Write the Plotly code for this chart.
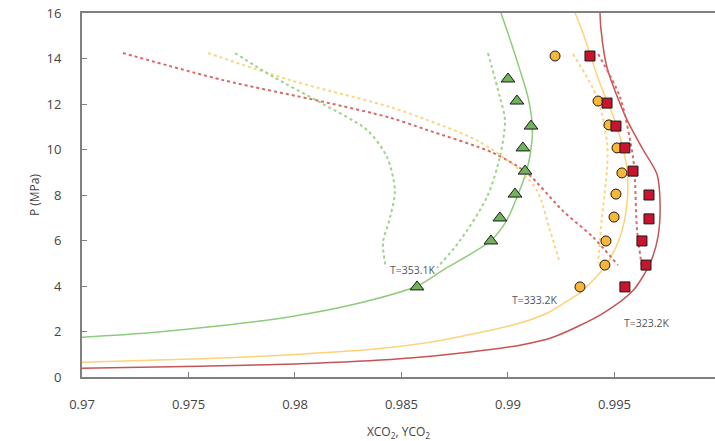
import plotly.graph_objects as go

# ---------------- data ----------------
tri_x = [0.9900, 0.99042, 0.99108, 0.99070, 0.9908, 0.99033, 0.98962, 0.9892, 0.98573]
tri_p = [13.1, 12.13, 11.03, 10.07, 9.05, 8.04, 6.99, 5.98, 3.96]

cir_x = [0.99221, 0.99423, 0.99474, 0.99512, 0.99535, 0.99507, 0.99498, 0.9946, 0.99455, 0.99338]
cir_p = [14.11, 12.13, 11.08, 10.07, 8.97, 8.04, 7.03, 5.98, 4.92, 3.96]

sq_x = [0.99385, 0.99465, 0.99507, 0.99549, 0.99587, 0.99662, 0.99662, 0.99629, 0.99648, 0.99549]
sq_p = [14.11, 12.04, 11.03, 10.07, 9.05, 8.0, 6.95, 5.98, 4.92, 3.96]

g_x = [0.97, 0.97319, 0.97648, 0.97977, 0.98258, 0.98573, 0.98695, 0.9892, 0.98995, 0.99042,
       0.99089, 0.99113, 0.99113, 0.99094, 0.99056, 0.98995, 0.98967]
g_p = [1.75, 1.95, 2.25, 2.65, 3.15, 4.0, 4.7, 6.0, 6.9, 7.9, 9.1, 10.4, 11.2, 12.3, 13.5, 15.25, 16.0]

y_x = [0.97, 0.97554, 0.98023, 0.98399, 0.98695, 0.99056, 0.99183, 0.99305, 0.99338, 0.99455,
       0.99526, 0.99559, 0.99559, 0.99512, 0.99432, 0.99347, 0.99315]
y_p = [0.65, 0.8, 1.0, 1.25, 1.63, 2.37, 2.8, 3.5, 3.7, 4.85, 6.15, 7.65, 9.1, 11.0, 12.9, 15.25, 16.0]

r_x = [0.97, 0.97554, 0.98023, 0.98493, 0.98822, 0.99056, 0.99211, 0.99446, 0.99587, 0.99667,
       0.99704, 0.99714, 0.99700, 0.99634, 0.99559, 0.99465, 0.99437, 0.99432]
r_p = [0.38, 0.47, 0.58, 0.8, 1.1, 1.4, 1.75, 2.8, 3.8, 5.0, 6.15, 7.65, 8.9, 10.0, 11.3, 13.6, 15.25, 16.0]

rd1_x = [0.97192, 0.97662, 0.98131, 0.98446, 0.9862, 0.9893, 0.99089, 0.99258, 0.99399, 0.99516]
rd1_p = [14.24, 13.05, 12.1, 11.4, 10.86, 9.85, 8.97, 7.3, 6.15, 4.92]
rd2_x = [0.99423, 0.99526, 0.99587, 0.99596, 0.99606, 0.99629]
rd2_p = [14.2, 12.3, 9.67, 8.66, 6.46, 4.84]

yd1_x = [0.97592, 0.97977, 0.98446, 0.9862, 0.98854, 0.99042, 0.99136, 0.99197, 0.99244]
yd1_p = [14.24, 13.05, 11.87, 11.3, 10.4, 9.2, 8.2, 6.46, 5.0]
yd2_x = [0.99305, 0.99418, 0.99465, 0.99465, 0.99441, 0.99423]
yd2_p = [14.2, 12.3, 10.3, 9.1, 7.0, 5.0]

gd1_x = [0.97718, 0.97897, 0.98131, 0.98338, 0.98432, 0.98469, 0.98446, 0.98413, 0.98427]
gd1_p = [14.24, 13.2, 12.0, 10.86, 9.67, 8.2, 7.0, 5.9, 4.8]
gd2_x = [0.98906, 0.98962, 0.98986, 0.98962, 0.98901, 0.98775, 0.98667]
gd2_p = [14.24, 12.3, 11.3, 9.67, 7.9, 6.0, 4.8]

labels = ["T=353.1K", "T=333.2K", "T=323.2K"]
label_x = [0.98554, 0.99127, 0.99653]
label_p = [4.7, 3.4, 2.36]

x_ticks = [0.97, 0.975, 0.98, 0.985, 0.99, 0.995]
x_ticktext = ["0.97", "0.975", "0.98", "0.985", "0.99", "0.995"]
y_ticks = [0, 2, 4, 6, 8, 10, 12, 14, 16]

# ---------------- styles ----------------
GREEN = "#8fcb7b"
YELLOW = "#fdd279"
RED = "#c45555"
GREEN_D = "#9fd38a"
YELLOW_D = "#fcd583"
RED_D = "#d96a6a"

fig = go.Figure()

def line(x, y, color, dash=None, width=1.5):
    fig.add_trace(go.Scatter(x=x, y=y, mode="lines",
                             line=dict(color=color, width=width, dash=dash, shape="spline", smoothing=0.8),
                             hoverinfo="skip", showlegend=False))

line(g_x, g_p, GREEN)
line(y_x, y_p, YELLOW)
line(r_x, r_p, RED)
line(rd1_x, rd1_p, RED_D, "dot", 2)
line(rd2_x, rd2_p, RED_D, "dot", 2)
line(yd1_x, yd1_p, YELLOW_D, "dot", 2)
line(yd2_x, yd2_p, YELLOW_D, "dot", 2)
line(gd1_x, gd1_p, GREEN_D, "dot", 2)
line(gd2_x, gd2_p, GREEN_D, "dot", 2)

fig.add_trace(go.Scatter(x=tri_x, y=tri_p, mode="markers", showlegend=False,
                         marker=dict(symbol="triangle-up", size=12, color="#6fb45b",
                                     line=dict(color="#1a1a1a", width=1))))
fig.add_trace(go.Scatter(x=cir_x, y=cir_p, mode="markers", showlegend=False,
                         marker=dict(symbol="circle", size=10, color="#f8b739",
                                     line=dict(color="#1a1a1a", width=1))))
fig.add_trace(go.Scatter(x=sq_x, y=sq_p, mode="markers", showlegend=False,
                         marker=dict(symbol="square", size=10, color="#c8142e",
                                     line=dict(color="#1a1a1a", width=1))))

for t, x, p in zip(labels, label_x, label_p):
    fig.add_annotation(x=x, y=p, text=t, showarrow=False,
                       font=dict(size=10.5, color="#555555", family="Open Sans"))

axis_common = dict(showgrid=False, zeroline=False, showline=True, linecolor="#808080",
                   linewidth=2, ticks="inside", ticklen=5, tickcolor="#808080", tickwidth=1,
                   ticklabeloverflow="allow",
                   tickfont=dict(size=13, color="#444444", family="Open Sans"))

fig.update_xaxes(range=[0.97, 0.99972], tickvals=x_ticks, ticktext=x_ticktext,
                 mirror=True, ticklabelstandoff=14,
                 title=dict(text="XCO<sub>2</sub>, YCO<sub>2</sub>", standoff=20,
                            font=dict(size=12, color="#444444", family="Open Sans")),
                 **axis_common)
fig.update_yaxes(range=[0, 16], tickvals=y_ticks, ticklabelstandoff=16,
                 title=dict(text="P (MPa)", standoff=4,
                            font=dict(size=12, color="#444444", family="Open Sans")),
                 **axis_common)

fig.update_layout(width=715, height=441, margin=dict(l=82, r=0, t=13, b=64),
                  plot_bgcolor="white", paper_bgcolor="white")

fig.write_html("out.html", config={"displayModeBar": False},
               post_script="document.body.style.margin='0';")
